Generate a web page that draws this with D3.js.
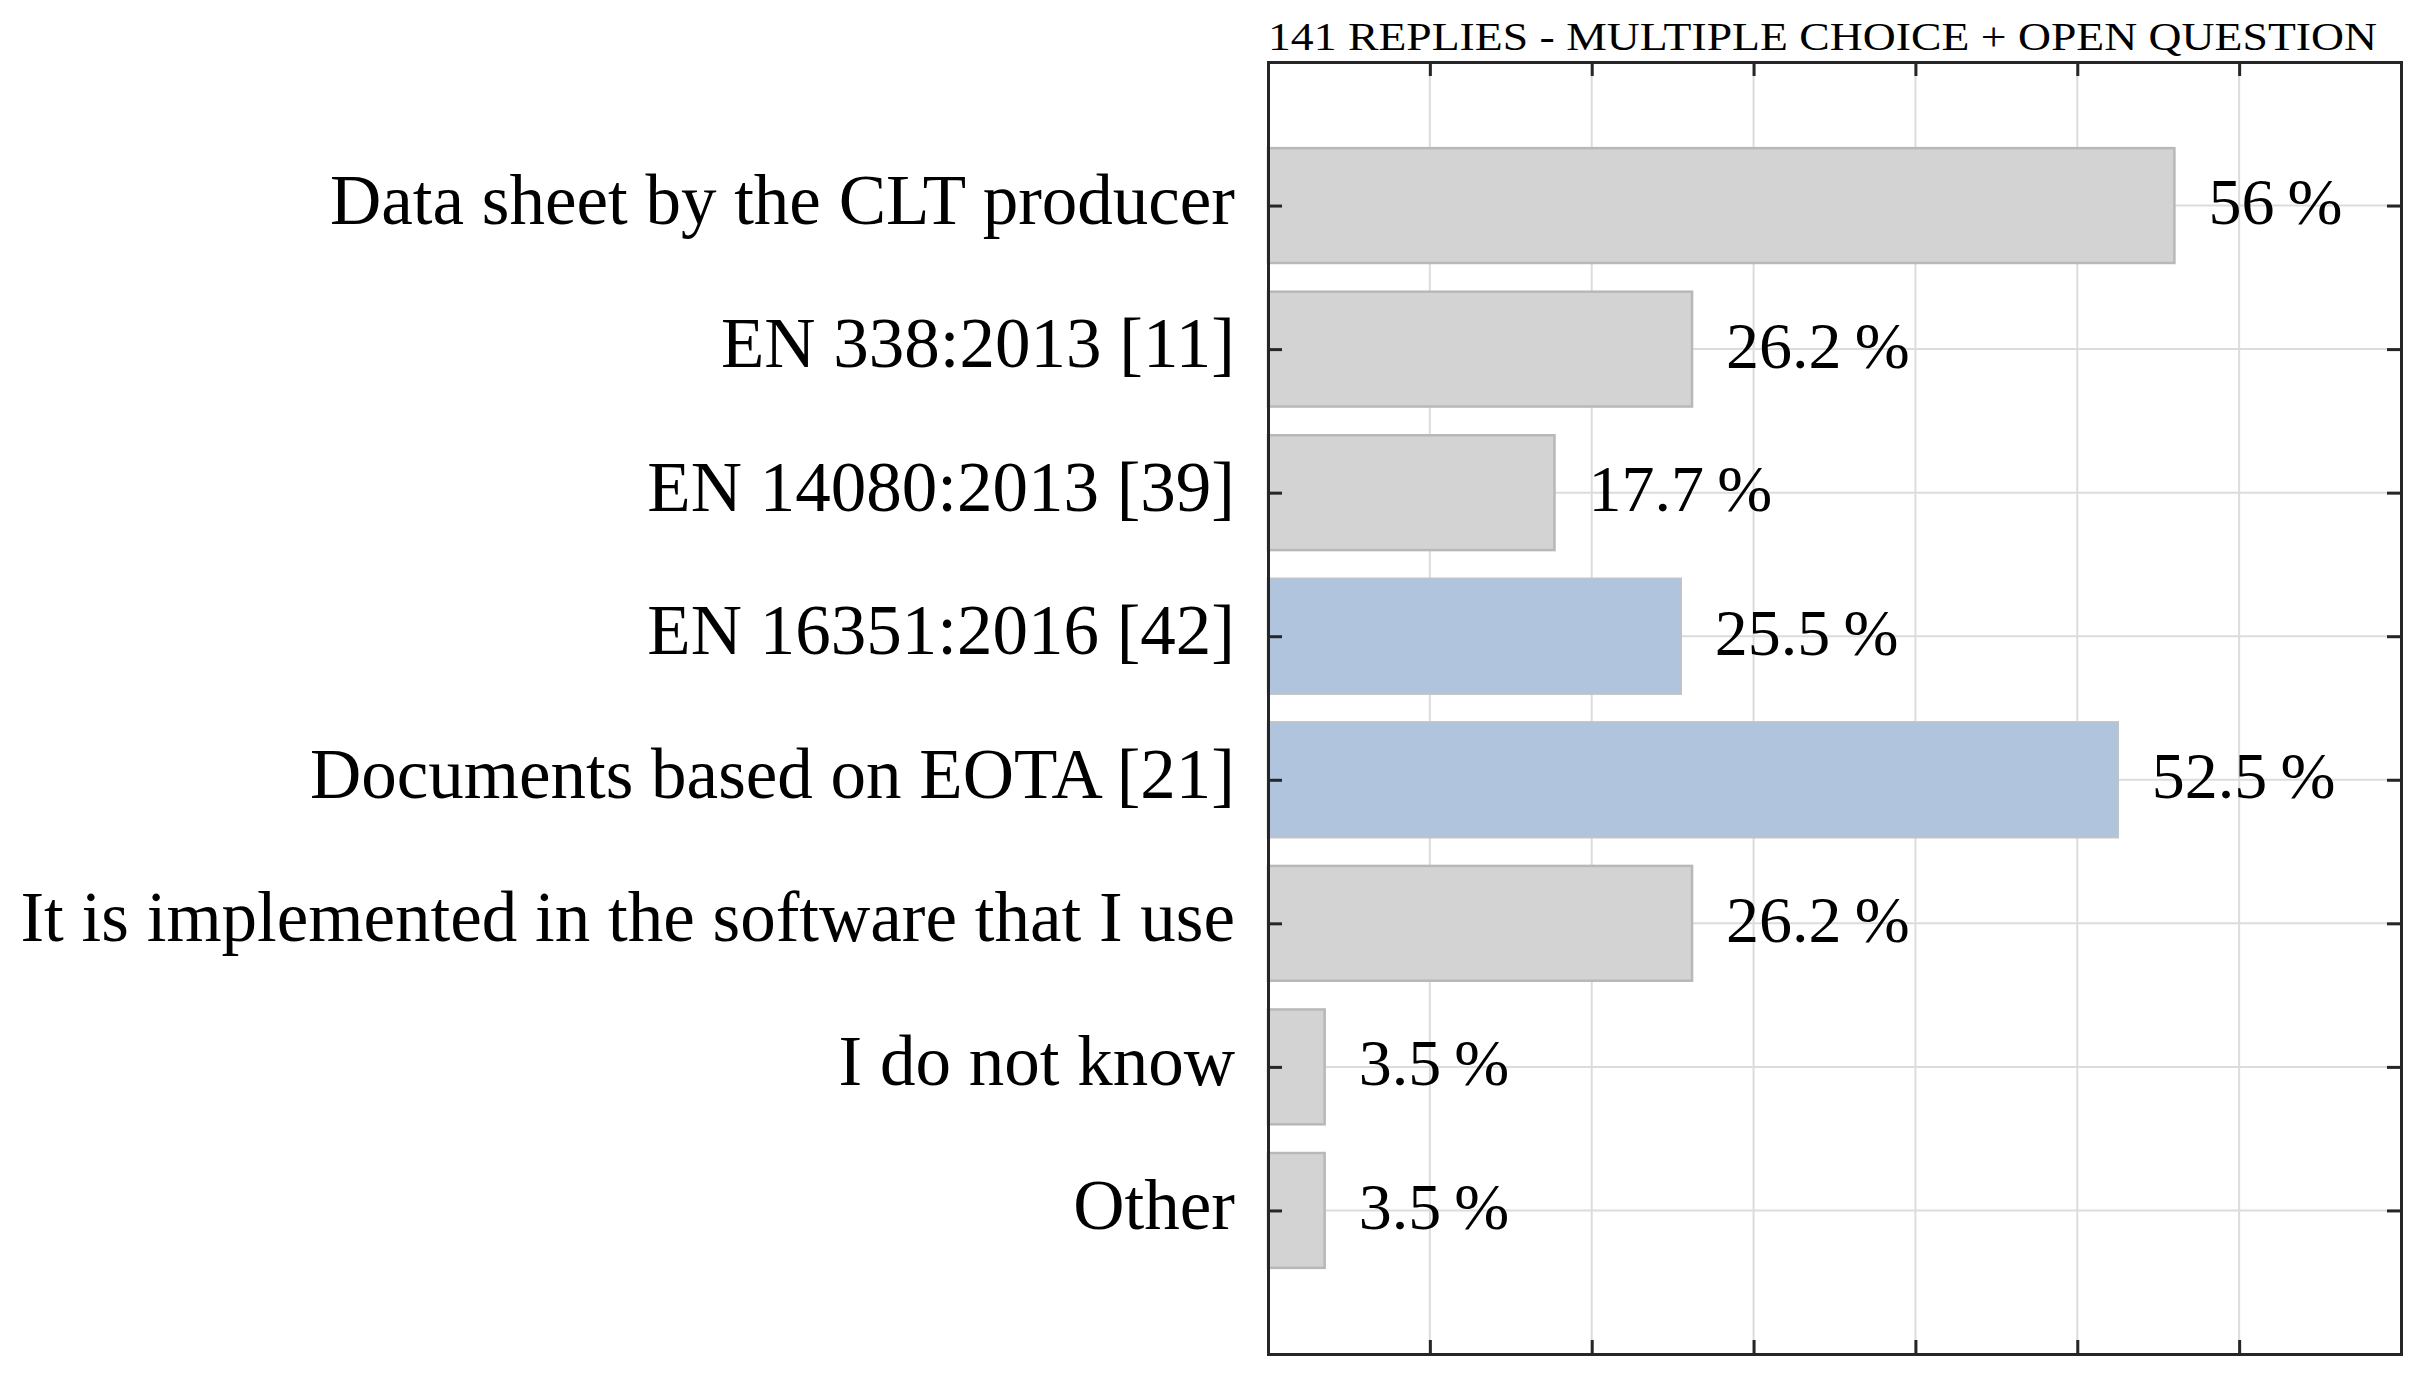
<!DOCTYPE html>
<html>
<head>
<meta charset="utf-8">
<script src="https://cdn.jsdelivr.net/npm/d3@7"></script>
<style>
  html, body { margin: 0; padding: 0; background: #fff; }
  svg { display: block; }
  text { font-family: "Liberation Serif", "Times New Roman", serif; fill: #000; }
</style>
</head>
<body>
<svg id="chart" width="2421" height="1374"></svg>
<script>
// ---- data ----
const categories = [
  "Data sheet by the CLT producer",
  "EN 338:2013 [11]",
  "EN 14080:2013 [39]",
  "EN 16351:2016 [42]",
  "Documents based on EOTA [21]",
  "It is implemented in the software that I use",
  "I do not know",
  "Other"
];
const values = [56, 26.2, 17.7, 25.5, 52.5, 26.2, 3.5, 3.5];
const valueLabels = ["56", "26.2", "17.7", "25.5", "52.5", "26.2", "3.5", "3.5"];
const highlighted = [false, false, false, true, true, false, false, false];
const xTicks = [0, 10, 20, 30, 40, 50, 60, 70];
const title = "141 REPLIES - MULTIPLE CHOICE + OPEN QUESTION";

// ---- layout ----
const mLeft = 1268, mRight = 2401, mTop = 62, mBottom = 1354;

const svg = d3.select("#chart");

const x = d3.scaleLinear().domain([0, 70]).range([mLeft, mRight]);
// MATLAB-like barh: categories at 1..n, ylim [0, n+1], reversed
const yPos = d3.scaleLinear().domain([0, categories.length + 1]).range([mTop, mBottom]);
const barH = 0.8 * (yPos(1) - yPos(0));

// grid
const grid = svg.append("g");
grid.selectAll("line.vg").data(xTicks.slice(1, -1)).join("line")
  .attr("x1", d => x(d)).attr("x2", d => x(d))
  .attr("y1", mTop).attr("y2", mBottom)
  .attr("stroke", "#dcdcdc").attr("stroke-width", 2);
grid.selectAll("line.hg").data(categories).join("line")
  .attr("x1", mLeft).attr("x2", mRight)
  .attr("y1", (d, i) => yPos(i + 1)).attr("y2", (d, i) => yPos(i + 1))
  .attr("stroke", "#dcdcdc").attr("stroke-width", 2);

// bars
svg.append("g").selectAll("rect").data(values).join("rect")
  .attr("x", x(0))
  .attr("y", (d, i) => yPos(i + 1) - barH / 2)
  .attr("width", d => x(d) - x(0))
  .attr("height", barH)
  .attr("fill", (d, i) => highlighted[i] ? "#b0c4de" : "#d3d3d3")
  .attr("stroke", (d, i) => highlighted[i] ? "#bcc3cc" : "#b8b8b8")
  .attr("stroke-width", 2.5);

// value labels
svg.append("g").selectAll("text").data(values).join("text")
  .attr("x", d => x(d) + 34)
  .attr("y", (d, i) => yPos(i + 1) - 4)
  .attr("dominant-baseline", "central")
  .attr("font-size", 66)
  .text((d, i) => valueLabels[i] + "\u2009%");

// axes (box)
const axisColor = "#262626";
const xAxisTop = d3.axisTop(x).tickValues(xTicks).tickSize(-14).tickFormat("");
const xAxisBottom = d3.axisBottom(x).tickValues(xTicks).tickSize(-14).tickFormat("");
const yTickVals = categories.map((d, i) => i + 1);
const yAxisLeft = d3.axisLeft(yPos).tickValues(yTickVals).tickSize(-14)
  .tickFormat(d => categories[d - 1]).tickPadding(33);
const yAxisRight = d3.axisRight(yPos).tickValues(yTickVals).tickSize(-14).tickFormat("");

function styleAxis(g) {
  g.select(".domain").attr("stroke", axisColor).attr("stroke-width", 3);
  g.selectAll(".tick line").attr("stroke", axisColor).attr("stroke-width", 3);
}
svg.append("g").attr("transform", `translate(0,${mTop})`).call(xAxisTop).call(styleAxis);
svg.append("g").attr("transform", `translate(0,${mBottom})`).call(xAxisBottom).call(styleAxis);
const gl = svg.append("g").attr("transform", `translate(${mLeft},0)`).call(yAxisLeft).call(styleAxis);
gl.selectAll(".tick text")
  .attr("font-family", "Liberation Serif, serif")
  .attr("font-size", 71).attr("fill", "#000")
  .attr("dy", "-0.09em")
  .attr("dominant-baseline", "central");
svg.append("g").attr("transform", `translate(${mRight},0)`).call(yAxisRight).call(styleAxis);

// title
svg.append("text")
  .attr("x", mLeft).attr("y", 50)
  .attr("font-size", 39)
  .attr("textLength", 1109).attr("lengthAdjust", "spacingAndGlyphs")
  .text(title);
</script>
</body>
</html>
